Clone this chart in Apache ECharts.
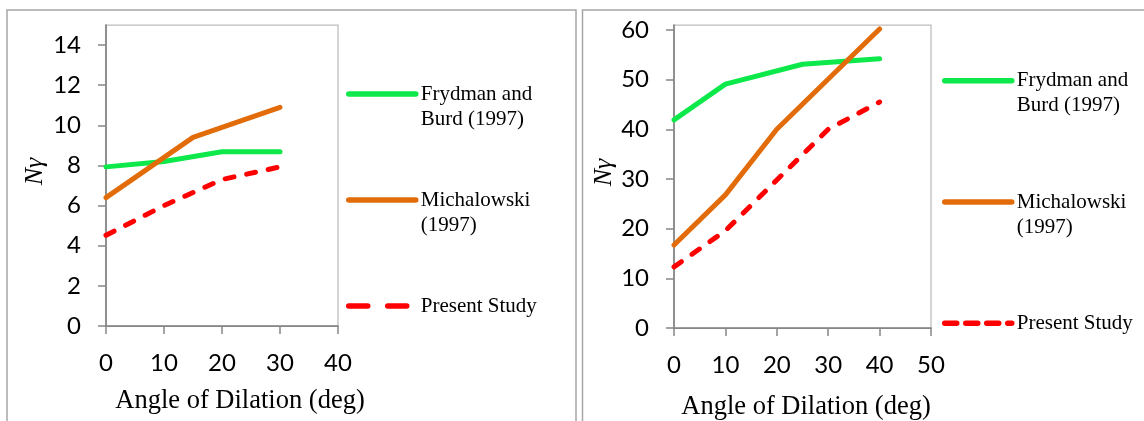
<!DOCTYPE html>
<html><head><meta charset="utf-8">
<script src="https://cdn.jsdelivr.net/npm/echarts@6/dist/echarts.min.js"></script>
<style>html,body{margin:0;padding:0;background:#fff}#c{width:1144px;height:421px}</style>
</head><body><div id="c"></div>
<script>
// ---------- data ----------
const seriesNames = ['Frydman and Burd (1997)', 'Michalowski (1997)', 'Present Study'];
const legendLabels = [' \nFrydman and\nBurd (1997)', ' \nMichalowski\n(1997)', ' \nPresent Study\n '];
const xTitle = 'Angle of Dilation (deg)';
const yTitle = 'N\u03b3';

// Left panel
const leftXTicks = [0, 10, 20, 30, 40];
const leftYTicks = [0, 2, 4, 6, 8, 10, 12, 14];
const leftFrydmanX = [0, 10, 20, 30];
const leftFrydmanY = [7.93, 8.2, 8.68, 8.68];
const leftMichX = [0, 15, 30];
const leftMichY = [6.4, 9.4, 10.9];
const leftPresentX = [0, 10, 20, 30];
const leftPresentY = [4.52, 6.0, 7.3, 7.93];

// Right panel
const rightXTicks = [0, 10, 20, 30, 40, 50];
const rightYTicks = [0, 10, 20, 30, 40, 50, 60];
const rightFrydmanX = [0, 10, 25, 40];
const rightFrydmanY = [41.9, 49.1, 53.1, 54.2];
const rightMichX = [0, 10, 20, 40];
const rightMichY = [16.7, 26.8, 40.0, 60.2];
const rightPresentX = [0, 10, 20, 30, 40];
const rightPresentY = [12.3, 19.6, 29.8, 40.0, 45.5];

// ---------- styling ----------
const COLORS = ['#0DE84A', '#E36C0A', '#FF0000'];
const AXIS_COLOR = '#868686';
const LABEL_FONT = 'Lato';
const SERIF = '"Liberation Serif", "Times New Roman", serif';

function zip(xs, ys) { return xs.map((x, i) => [x, ys[i]]); }

function xAxisFor(gridIndex, ticks, padLeft, gap) {
  return {
    type: 'value', gridIndex,
    min: ticks[0], max: ticks[ticks.length - 1], interval: ticks[1] - ticks[0],
    axisLine: { show: true, lineStyle: { color: AXIS_COLOR, width: 1.75 } },
    axisTick: { show: true, inside: false, length: 8, lineStyle: { color: AXIS_COLOR, width: 1.5 } },
    axisLabel: { margin: 25, fontFamily: LABEL_FONT, fontSize: 24, color: '#000' },
    splitLine: { show: false },
    name: xTitle, nameLocation: 'middle', nameGap: gap,
    nameTextStyle: { fontFamily: SERIF, fontSize: 26.5, color: '#000', padding: [0, 0, 0, padLeft] }
  };
}
function yAxisFor(gridIndex, ticks, max, gap) {
  return {
    type: 'value', gridIndex,
    min: ticks[0], max: max, interval: ticks[1] - ticks[0],
    axisLine: { show: true, lineStyle: { color: AXIS_COLOR, width: 1.75 } },
    axisTick: { show: true, inside: false, length: 8, customValues: ticks, lineStyle: { color: AXIS_COLOR, width: 1.5 } },
    axisLabel: { margin: 25, customValues: ticks, fontFamily: LABEL_FONT, fontSize: 24, color: '#000' },
    splitLine: { show: false },
    name: yTitle, nameLocation: 'middle', nameGap: gap, nameRotate: 90,
    nameTextStyle: { fontFamily: SERIF, fontStyle: 'italic', fontSize: 26, color: '#000', padding: [0, 0, 0, 8] }
  };
}
function lineSeries(name, idx, gridIdx, data) {
  return {
    type: 'line', name, xAxisIndex: gridIdx, yAxisIndex: gridIdx,
    data, symbol: 'none', animation: false, silent: true,
    lineStyle: {
      color: COLORS[idx], width: 5, cap: 'round', join: 'round',
      type: idx === 2 ? [9, 13] : 'solid'
    },
    itemStyle: { color: COLORS[idx] }
  };
}
function legendFor(left, top, gap, redDash) {
  return {
    orient: 'vertical', left, top, itemGap: gap, padding: 0,
    itemWidth: 67, itemHeight: 10,
    selectedMode: false,
    data: seriesNames.map((n, i) => ({
      name: n,
      lineStyle: { width: 5.5, cap: 'round', type: i === 2 ? redDash : 'solid' }
    })),
    lineStyle: { width: 5.5, cap: 'round' },
    itemStyle: { opacity: 0 },
    formatter: (name) => legendLabels[seriesNames.indexOf(name)],
    textStyle: { fontFamily: SERIF, fontSize: 21, lineHeight: 25, color: '#000' }
  };
}

const chart = echarts.init(document.getElementById('c'), null, { renderer: 'canvas' });
chart.setOption({
  animation: false,
  backgroundColor: '#fff',
  graphic: [
    { type: 'rect', silent: true, z: -10, shape: { x: 7, y: 10, width: 569, height: 440 },
      style: { fill: 'none', stroke: '#a6a6a6', lineWidth: 1.5 } },
    { type: 'rect', silent: true, z: -10, shape: { x: 582.5, y: 10, width: 620, height: 440 },
      style: { fill: 'none', stroke: '#a6a6a6', lineWidth: 1.5 } }
  ],
  grid: [
    { left: 106, top: 25, width: 232, height: 301, show: true, borderColor: '#bdbdbd', borderWidth: 1.25,
      backgroundColor: 'transparent', containLabel: false, outerBoundsMode: 'none' },
    { left: 674, top: 25, width: 257, height: 303, show: true, borderColor: '#bdbdbd', borderWidth: 1.25,
      backgroundColor: 'transparent', containLabel: false, outerBoundsMode: 'none' }
  ],
  xAxis: [xAxisFor(0, leftXTicks, 36, 62), xAxisFor(1, rightXTicks, 7, 66)],
  yAxis: [yAxisFor(0, leftYTicks, 15, 58), yAxisFor(1, rightYTicks, 61, 53)],
  legend: [legendFor(346, 56.5, 31, [19, 20]), legendFor(942, 43.2, 46.3, [12, 9])],
  series: [
    lineSeries(seriesNames[0], 0, 0, zip(leftFrydmanX, leftFrydmanY)),
    lineSeries(seriesNames[1], 1, 0, zip(leftMichX, leftMichY)),
    lineSeries(seriesNames[2], 2, 0, zip(leftPresentX, leftPresentY)),
    lineSeries(seriesNames[0], 0, 1, zip(rightFrydmanX, rightFrydmanY)),
    lineSeries(seriesNames[1], 1, 1, zip(rightMichX, rightMichY)),
    lineSeries(seriesNames[2], 2, 1, zip(rightPresentX, rightPresentY))
  ]
});
</script></body></html>
